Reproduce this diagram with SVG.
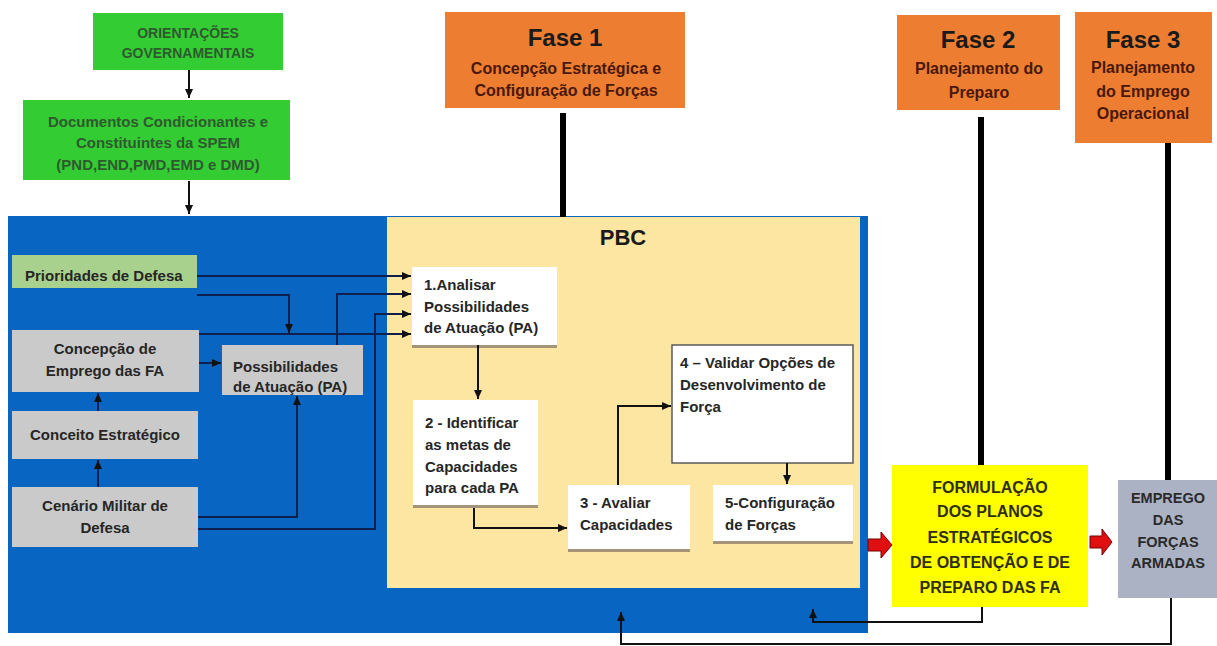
<svg xmlns="http://www.w3.org/2000/svg" width="1217" height="646" viewBox="0 0 1217 646">
<defs>
<style>
text{font-family:"Liberation Sans",Arial,sans-serif;font-weight:bold;}
.t{font-size:15px;fill:#262626;}
.c{text-anchor:middle;}
.g{font-size:14px;fill:#2f5a2f;text-anchor:middle;}
.g2{font-size:15px;fill:#2f5a2f;text-anchor:middle;}
.fh{font-size:24px;fill:#1a1a1a;text-anchor:middle;}
.fs{font-size:16px;fill:#4a1808;text-anchor:middle;}
.nv{fill:none;stroke:#0d1f4f;stroke-width:2;}
.bk{fill:none;stroke:#111;stroke-width:2;}
.thick{stroke:#000;stroke-width:6;}
.wb{fill:#fff;}
.sh{fill:#a5937a;}
.gray{fill:#cacaca;}
.orange{fill:#ed7d31;}
.red{fill:#e01010;stroke:#7a0000;stroke-width:1;}
</style>
<marker id="ah" markerUnits="userSpaceOnUse" markerWidth="9" markerHeight="8" refX="9" refY="4" orient="auto">
<path d="M0,0 L9,4 L0,8 z" fill="#111"/>
</marker>
</defs>
<rect width="1217" height="646" fill="#fff"/>

<g id="blue-panel"><rect x="8" y="216" width="860" height="417" fill="#0866c2"/></g>
<g id="pbc"><rect x="387" y="217" width="473" height="371" fill="#fde5a2"/>
<text x="623" y="245" font-size="22" fill="#1a1a1a" text-anchor="middle">PBC</text></g>

<g id="orientacoes"><rect x="93" y="13" width="190" height="57" fill="#33cc33"/>
<text class="g" x="188" y="38">ORIENTAÇÕES</text><text class="g" x="188" y="58">GOVERNAMENTAIS</text></g>

<g id="documentos"><rect x="23" y="100" width="267" height="80" fill="#33cc33"/>
<text class="g2" x="158" y="127">Documentos Condicionantes e</text>
<text class="g2" x="158" y="148">Constituintes da SPEM</text>
<text class="g2" x="158" y="170">(PND,END,PMD,EMD e DMD)</text></g>

<g id="fase1"><rect class="orange" x="445" y="12" width="240" height="96"/>
<text class="fh" x="565" y="46">Fase 1</text>
<text class="fs" x="566" y="74">Concepção Estratégica e</text>
<text class="fs" x="566" y="96">Configuração de Forças</text></g>

<g id="fase2"><rect class="orange" x="897" y="15" width="163" height="95"/>
<text class="fh" x="978" y="48">Fase 2</text>
<text class="fs" x="979" y="74">Planejamento do</text>
<text class="fs" x="979" y="98">Preparo</text></g>

<g id="fase3"><rect class="orange" x="1075" y="12" width="137" height="131"/>
<text class="fh" x="1143" y="48">Fase 3</text>
<text class="fs" x="1143" y="73">Planejamento</text>
<text class="fs" x="1143" y="97">do Emprego</text>
<text class="fs" x="1143" y="119">Operacional</text></g>

<g id="prioridades"><rect x="12" y="255" width="185" height="33" fill="#a9d18e"/>
<text class="t" x="25" y="281">Prioridades de Defesa</text></g>

<g id="concepcao"><rect class="gray" x="12" y="330" width="187" height="62"/>
<text class="t c" x="105" y="354">Concepção de</text>
<text class="t c" x="105" y="376">Emprego das FA</text></g>

<g id="possibilidades"><rect class="gray" x="222" y="345" width="141" height="50"/>
<text class="t" x="233" y="372">Possibilidades</text>
<text class="t" x="233" y="392">de Atuação (PA)</text></g>

<g id="conceito"><rect class="gray" x="12" y="411" width="186" height="48"/>
<text class="t c" x="105" y="440">Conceito Estratégico</text></g>

<g id="cenario"><rect class="gray" x="12" y="487" width="186" height="60"/>
<text class="t c" x="105" y="511">Cenário Militar de</text>
<text class="t c" x="105" y="533">Defesa</text></g>

<g id="passo1"><rect class="sh" x="412" y="267" width="145" height="81"/><rect class="wb" x="412" y="267" width="145" height="78"/>
<text class="t" x="424" y="290">1.Analisar</text>
<text class="t" x="424" y="312">Possibilidades</text>
<text class="t" x="424" y="333">de Atuação (PA)</text></g>

<g id="passo2"><rect class="sh" x="413" y="400" width="125" height="108"/><rect class="wb" x="413" y="400" width="125" height="105"/>
<text class="t" x="425" y="428">2 - Identificar</text>
<text class="t" x="425" y="450">as metas de</text>
<text class="t" x="425" y="472">Capacidades</text>
<text class="t" x="425" y="493">para cada PA</text></g>

<g id="passo3"><rect class="sh" x="568" y="485" width="122" height="67"/><rect class="wb" x="568" y="485" width="122" height="64"/>
<text class="t" x="580" y="508">3 - Avaliar</text>
<text class="t" x="580" y="530">Capacidades</text></g>

<g id="passo4"><rect x="672" y="345" width="181" height="118" fill="#fff" stroke="#5a5a5a" stroke-width="1.5"/>
<text class="t" x="680" y="368">4 – Validar Opções de</text>
<text class="t" x="680" y="390">Desenvolvimento de</text>
<text class="t" x="680" y="412">Força</text></g>

<g id="passo5"><rect class="sh" x="713" y="485" width="140" height="59"/><rect class="wb" x="713" y="485" width="140" height="56"/>
<text class="t" x="725" y="508">5-Configuração</text>
<text class="t" x="725" y="530">de Forças</text></g>

<g id="formulacao"><rect x="892" y="465" width="196" height="142" fill="#ffff00"/>
<g font-size="16" fill="#2e2e14" text-anchor="middle">
<text x="990" y="493">FORMULAÇÃO</text>
<text x="990" y="517">DOS PLANOS</text>
<text x="990" y="543">ESTRATÉGICOS</text>
<text x="990" y="568">DE OBTENÇÃO E DE</text>
<text x="990" y="593">PREPARO DAS FA</text></g></g>

<g id="emprego"><rect x="1118" y="480" width="99" height="118" fill="#aab2c3"/>
<g font-size="14.5" fill="#2a2a2a" text-anchor="middle">
<text x="1168" y="503">EMPREGO</text>
<text x="1168" y="525">DAS</text>
<text x="1168" y="547">FORÇAS</text>
<text x="1168" y="568">ARMADAS</text></g></g>

<g id="connectors">
<path class="bk" d="M189,70 V98" marker-end="url(#ah)"/>
<path class="bk" d="M189,181 V214" marker-end="url(#ah)"/>
<path class="thick" d="M563,113 V217"/>
<path class="thick" d="M981,117 V465"/>
<path class="thick" d="M1168,143 V480"/>
<path class="nv" d="M197,276 H411" marker-end="url(#ah)"/>
<path class="nv" d="M197,295 H289 V333" marker-end="url(#ah)"/>
<path class="nv" d="M199,334 H411" marker-end="url(#ah)"/>
<path class="nv" d="M337,345 V294 H411" marker-end="url(#ah)"/>
<path class="nv" d="M198,517 H297 V396" marker-end="url(#ah)"/>
<path class="nv" d="M198,529 H375 V314 H411" marker-end="url(#ah)"/>
<path class="nv" d="M199,363 H221" marker-end="url(#ah)"/>
<path class="nv" d="M98,487 V460" marker-end="url(#ah)"/>
<path class="nv" d="M98,411 V393" marker-end="url(#ah)"/>
<path class="bk" d="M478,345 V399" marker-end="url(#ah)"/>
<path class="bk" d="M474,508 V528 H567" marker-end="url(#ah)"/>
<path class="bk" d="M618,485 V406 H671" marker-end="url(#ah)"/>
<path class="bk" d="M787,463 V484" marker-end="url(#ah)"/>
<polygon class="red" points="868,539 881,539 881,532 892,545 881,558 881,551 868,551"/>
<polygon class="red" points="1090,536 1102,536 1102,529 1112,542 1102,555 1102,548 1090,548"/>
<path class="bk" d="M982,607 V622 H813 V609" marker-end="url(#ah)"/>
<path class="bk" d="M1171,598 V644 H621 V612" marker-end="url(#ah)"/>
</g>
</svg>
